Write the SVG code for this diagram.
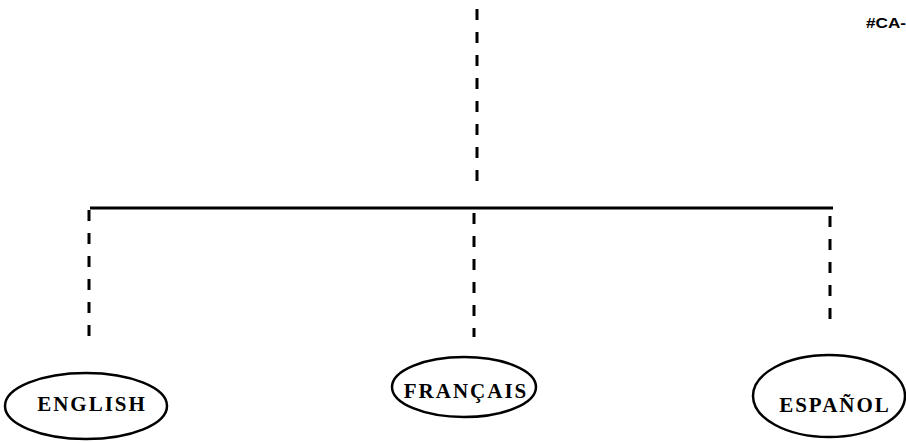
<svg xmlns="http://www.w3.org/2000/svg" width="906" height="443" viewBox="0 0 906 443">
<style>
.dash{stroke:#000;stroke-width:3;fill:none;stroke-dasharray:11 12}
.solid{stroke:#000;stroke-width:3;fill:none}
.node ellipse{fill:#fff;stroke:#000;stroke-width:2.5}
.node text{font-family:"Liberation Serif","Times New Roman",serif;font-weight:bold;font-size:21px;text-anchor:middle;fill:#000;letter-spacing:2px}
.code{font-family:"Liberation Sans",Arial,sans-serif;font-weight:bold;font-size:14px;fill:#000}
</style>
<rect width="906" height="443" fill="#fff"/>
<g id="connectors">
<line class="dash" x1="477" y1="9" x2="477" y2="184"/>
<line class="solid" x1="90" y1="208" x2="833" y2="208"/>
<line class="dash" x1="89" y1="210" x2="89" y2="340"/>
<line class="dash" x1="474" y1="213" x2="474" y2="337"/>
<line class="dash" x1="830" y1="216" x2="830" y2="331"/>
</g>
<text class="code" x="866" y="28" textLength="40" lengthAdjust="spacingAndGlyphs">#CA-</text>
<g id="english" class="node">
<ellipse cx="86" cy="406" rx="81" ry="33"/>
<text x="92" y="411">ENGLISH</text>
</g>
<g id="francais" class="node">
<ellipse cx="464" cy="387" rx="72" ry="30"/>
<text x="466" y="398">FRANÇAIS</text>
</g>
<g id="espanol" class="node">
<ellipse cx="829" cy="396" rx="76" ry="41"/>
<text x="835" y="412">ESPAÑOL</text>
</g>
</svg>
